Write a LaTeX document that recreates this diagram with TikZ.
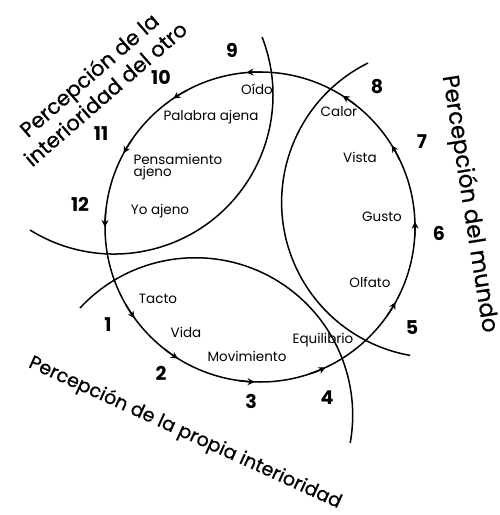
\documentclass[tikz,border=0pt]{standalone}
\usepackage{fontspec}
\setmainfont{Poppins}
\newfontfamily\ttlfont[FakeBold=0.6]{Poppins}
\usetikzlibrary{arrows.meta}
\begin{document}
\begin{tikzpicture}[x=1pt,y=1pt,every node/.style={font=\fontsize{13.5}{15}\selectfont},
        rim/.style={line width=1.5pt},
        cut/.style={line width=1.5pt},
        tip/.style={line width=1.5pt,-{Stealth[length=7pt,width=7pt]}},
        num/.style={font=\fontsize{19}{20}\selectfont\bfseries},
        ttl/.style={font=\ttlfont\fontsize{21}{25}\selectfont}]
    \useasboundingbox (0,0) rectangle (499,-515);
    \coordinate (c) at (260,-227);
    \draw[rim] (c) circle (155);
    % the three crossing arcs
    \draw[cut] (30,-230) arc[start angle=238.1, end angle=381.4, radius=159];
    \draw[cut] (368,-63) arc[start angle=116.4, end angle=260, radius=155.5];
    \draw[cut] (80,-308) arc[start angle=137.1, end angle=-10.2, radius=157.4];
    % markers and their numbers
    \foreach \a/\n/\x/\y in {95/9/232/50,124/10/161/77,151.6/11/101/134,180/12/80/204,
            216/1/108/325,238/2/161/373,268/3/251/401,295/4/327/398,
            331/5/412/328,362/6/439/233,391.8/7/422/142,417.8/8/377/87}{
        \draw[tip] (c) ++(\a-6:155) arc[start angle=\a-6, end angle=\a, radius=155];
        \node[num] (n\n) at (\x,-\y) {\n};
    }
    \node (oido) at (257,-89) {Oído};
    \node (palabra) at (211,-117) {Palabra ajena};
    \node[anchor=west,align=left] (pensamiento) at (130,-167) {Pensamiento\\[-3pt]ajeno};
    \node (yo) at (160,-211) {Yo ajeno};
    \node (calor) at (339,-112) {Calor};
    \node (vista) at (360,-157) {Vista};
    \node (gusto) at (382,-217) {Gusto};
    \node (olfato) at (370,-282) {Olfato};
    \node (equilibrio) at (323,-340) {Equilibrio};
    \node (movimiento) at (247,-356) {Movimiento};
    \node (vida) at (186,-332) {Vida};
    \node (tacto) at (158,-299) {Tacto};
    % titles
    \node[ttl,rotate=41,align=center] (otro) at (97,-84) {Percepción de la\\interioridad del otro};
    \node[ttl,font=\ttlfont\fontsize{23}{25}\selectfont,rotate=-81] (mundo) at (469,-204) {Percepción del mundo};
    \node[ttl,font=\ttlfont\fontsize{19}{21}\selectfont,rotate=-24.5] (propia) at (185,-433) {Percepción de la propia interioridad};
\end{tikzpicture}
\end{document}
